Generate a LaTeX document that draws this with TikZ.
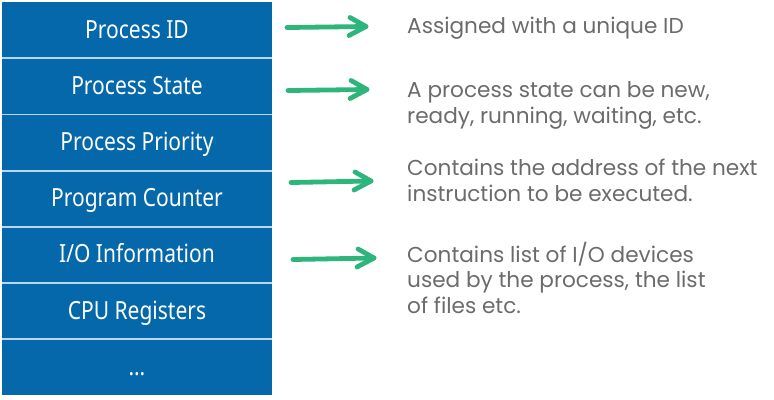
\documentclass[tikz,border=0pt]{standalone}
\usepackage{fontspec}
\setmainfont{Poppins}
\newfontfamily\boxfont[FakeStretch=0.84]{Noto Sans}
\newfontfamily\notefont{Poppins}
\definecolor{pcbblue}{HTML}{0568AA}
\definecolor{pcbsep}{HTML}{B8D6EE}
\definecolor{notegray}{HTML}{6B6B6B}
\definecolor{arrowgreen}{HTML}{2DB57C}
\tikzset{
  field/.style={rectangle, fill=pcbblue, inner sep=0pt, minimum width=270bp,
    minimum height=56.14bp, text height=17.5bp, text depth=1bp, text=white,
    font=\boxfont\fontsize{25bp}{29bp}\selectfont},
  separator/.style={draw=pcbsep, line width=1.8bp},
  note/.style={anchor=base west, inner sep=0pt, align=left, text=notegray,
    font=\notefont\fontsize{21.6bp}{25.5bp}\selectfont},
  greenshaft/.style={draw=arrowgreen, line width=4.8bp, line cap=round},
  greenhead/.style={draw=arrowgreen, line width=4.8bp, line cap=round, line join=round}
}
\begin{document}
\begin{tikzpicture}[x=1bp, y=-1bp]
\useasboundingbox (0,0) rectangle (774,399);

% process control block fields
\node[field] (f1) at (137, 30.07)  {Process ID};
\node[field] (f2) at (137, 86.21)  {Process State};
\node[field] (f3) at (137, 142.35) {Process Priority};
\node[field] (f4) at (137, 198.49) {Program Counter};
\node[field] (f5) at (137, 254.63) {I/O Information};
\node[field] (f6) at (137, 310.77) {CPU Registers};
\node[field] (f7) at (137, 366.91) {\dots};

\foreach \a/\b in {f1/f2, f2/f3, f3/f4, f4/f5, f5/f6, f6/f7}
  \draw[separator] (\a.south west) -- (\a.south east);

% explanatory notes (anchored at the baseline of their last line)
\node[note] (n1) at (407, 33)  {Assigned with a unique ID};
\node[note] (n2) at (407, 123) {A process state can be new,\\ready, running, waiting, etc.};
\node[note] (n3) at (407, 201) {Contains the address of the next\\instruction to be executed.};
\node[note] (n4) at (407, 313) {Contains list of I/O devices\\used by the process, the list\\of files etc.};

% hand-drawn arrows pointing to the notes
\coordinate (a1s) at (287, 27.5);  \coordinate (a1e) at (366, 26.5);
\coordinate (a2s) at (288, 90.5);  \coordinate (a2e) at (367, 89.5);
\coordinate (a3s) at (291, 182.5); \coordinate (a3e) at (371, 181);
\coordinate (a4s) at (293, 259.5); \coordinate (a4e) at (374, 258);

\foreach \s/\e in {a1s/a1e, a2s/a2e, a3s/a3e, a4s/a4e} {
  \draw[greenshaft] (\s) -- (\e);
  \draw[greenhead] ([shift={(-16,-9)}]\e) -- (\e) -- ([shift={(-17,9)}]\e);
}
\end{tikzpicture}
\end{document}
